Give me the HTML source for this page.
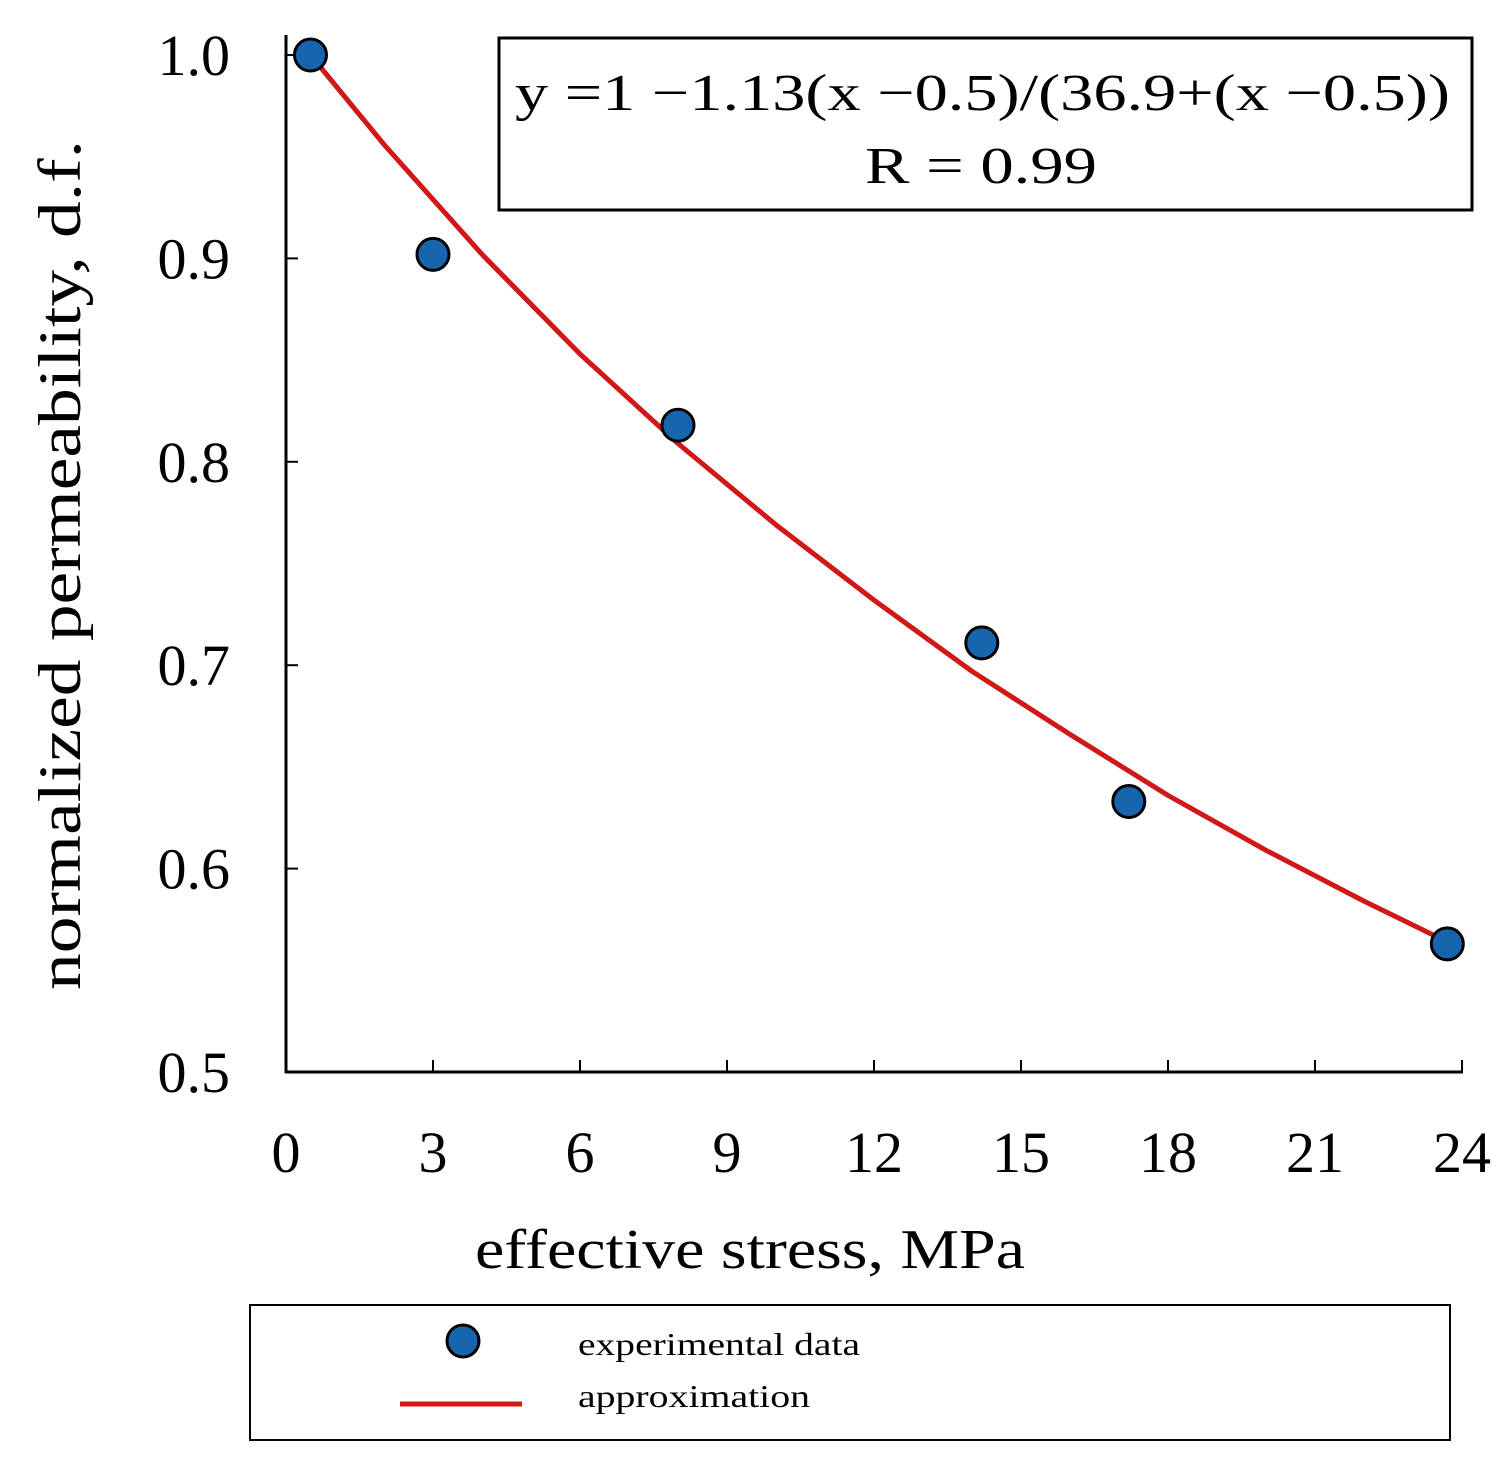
<!DOCTYPE html>
<html><head><meta charset="utf-8"><style>
body{margin:0;background:#fff}
svg{display:block;font-family:"Liberation Serif",serif}
</style></head><body>
<svg width="1504" height="1462" viewBox="0 0 1504 1462">
<g id="axes"></g>
<g id="marks"></g>
<rect x="499" y="38" width="973" height="172" fill="none" stroke="#000" stroke-width="3"/>
<text x="515" y="110" font-size="52" textLength="935" lengthAdjust="spacingAndGlyphs">y =1 −1.13(x −0.5)/(36.9+(x −0.5))</text>
<text x="865" y="183" font-size="52" textLength="232" lengthAdjust="spacingAndGlyphs">R = 0.99</text>
<text x="475" y="1268" font-size="56" textLength="550" lengthAdjust="spacingAndGlyphs">effective stress, MPa</text>
<text transform="translate(80,990) rotate(-90)" font-size="60" textLength="850" lengthAdjust="spacingAndGlyphs">normalized permeability, d.f.</text>
<g>
<rect x="250" y="1305" width="1200" height="135" fill="none" stroke="#000" stroke-width="2"/>
<circle cx="463" cy="1341" r="16" fill="#1665ad" stroke="#000" stroke-width="3"/>
<text x="578" y="1355" font-size="32" textLength="282" lengthAdjust="spacingAndGlyphs">experimental data</text>
<line x1="400" y1="1404" x2="522" y2="1404" stroke="#d01818" stroke-width="5"/>
<text x="578" y="1407" font-size="32" textLength="232" lengthAdjust="spacingAndGlyphs">approximation</text>
</g>
</svg>
<script>
const xTicks=[0,3,6,9,12,15,18,21,24];
const yTicks=[0.5,0.6,0.7,0.8,0.9,1.0];
const yTickLabels=["0.5","0.6","0.7","0.8","0.9","1.0"];
const dataX=[0.5,3,8,14.2,17.2,23.7];
const dataY=[1.0,0.902,0.818,0.711,0.633,0.563];
const curveX=[0.5,2,4,6,8,10,12,14,16,18,20,22,23.7];
const curveY=[1.0,0.956,0.902,0.853,0.809,0.769,0.732,0.697,0.666,0.636,0.609,0.584,0.564];
const NS="http://www.w3.org/2000/svg";
const X=v=>286+v*49, Y=v=>1072-(v-0.5)*2034;
function mk(t,a,p){const e=document.createElementNS(NS,t);for(const k in a)e.setAttribute(k,a[k]);p.appendChild(e);return e;}
const ax=document.getElementById('axes'), mg=document.getElementById('marks');
let e=mk('line',{x1:286,y1:35,x2:286,y2:1073,stroke:'#000','stroke-width':3},ax);


e=mk('line',{x1:285,y1:1072,x2:1463,y2:1072,stroke:'#000','stroke-width':3},ax);


xTicks.forEach(v=>{
 if(v>0){const t=mk('line',{x1:X(v),y1:1072,x2:X(v),y2:1060,stroke:'#000','stroke-width':2},ax);
 
 }
 const l=mk('text',{x:X(v),y:1172,'font-size':58,'text-anchor':'middle'},ax);l.textContent=v;
 
 
});
yTicks.forEach((v,i)=>{
 if(i>0){const t=mk('line',{x1:286,y1:Y(v),x2:298,y2:Y(v),stroke:'#000','stroke-width':2},ax);
 
 }
 const l=mk('text',{x:230,y:Y(v)+20,'font-size':58,'text-anchor':'end'},ax);l.textContent=yTickLabels[i];
 
 
});
const p=mk('polyline',{points:curveX.map((x,i)=>X(x)+','+Y(curveY[i])).join(' '),fill:'none',stroke:'#d01818','stroke-width':5,'stroke-linejoin':'round'},mg);


dataX.forEach((x,i)=>{
 const c=mk('circle',{cx:X(x),cy:Y(dataY[i]),r:16,fill:'#1665ad',stroke:'#000','stroke-width':3},mg);
 
 
});
</script>
</body></html>
